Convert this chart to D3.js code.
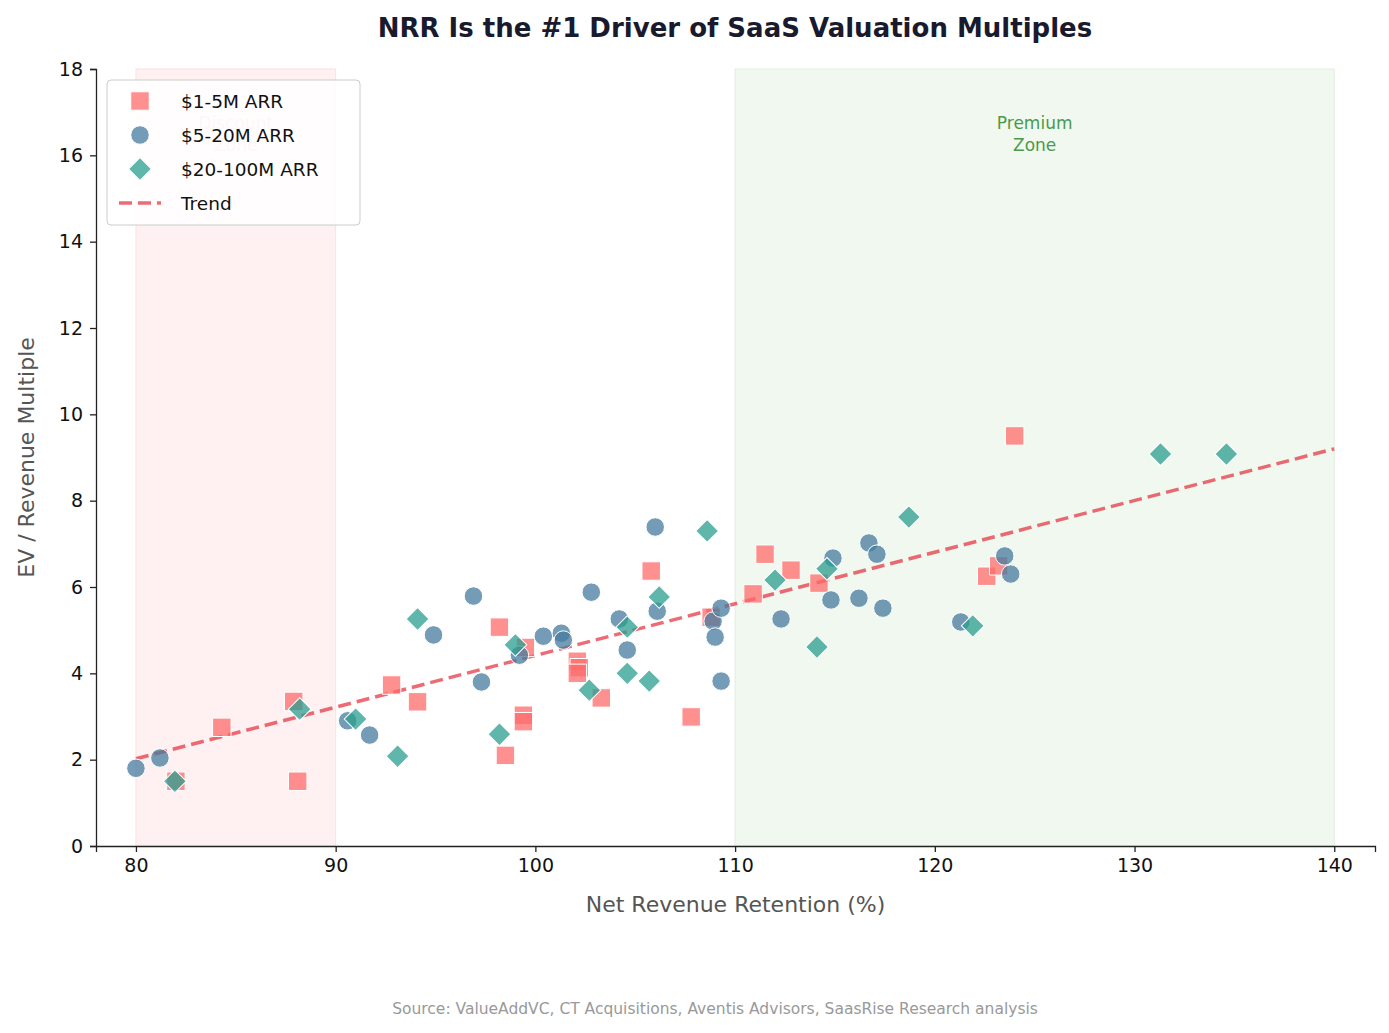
<!DOCTYPE html>
<html>
<head>
<meta charset="utf-8">
<script src="https://cdn.jsdelivr.net/npm/d3@7"></script>
<style>
  body { margin: 0; background: #fff; font-family: "DejaVu Sans", sans-serif; }
</style>
</head>
<body>
<svg id="chart"></svg>
<script>
// $1-5M ARR
const smallNrr = [82.0, 84.3, 87.9, 88.1, 92.8, 94.1, 98.2, 98.5, 99.5, 99.4, 99.4, 102.1, 102.2, 102.1, 103.3, 105.8, 107.8, 108.8, 111.5, 112.8, 110.9, 114.2, 122.6, 123.2, 124.0];
const smallMult = [1.5, 2.75, 3.35, 1.5, 3.73, 3.34, 5.07, 2.1, 4.6, 3.03, 2.88, 4.28, 4.13, 4.0, 3.43, 6.37, 2.99, 5.3, 6.76, 6.39, 5.84, 6.09, 6.25, 6.49, 9.5];
// $5-20M ARR
const midNrr = [80.0, 81.2, 90.6, 91.7, 94.9, 96.9, 97.3, 99.2, 100.4, 101.3, 101.4, 102.8, 104.2, 104.6, 106.0, 106.1, 108.9, 109.0, 109.3, 109.3, 112.3, 114.9, 114.8, 116.2, 116.7, 117.1, 117.4, 121.3, 123.5, 123.8];
const midMult = [1.8, 2.04, 2.9, 2.57, 4.89, 5.79, 3.8, 4.42, 4.86, 4.93, 4.77, 5.88, 5.26, 4.54, 7.39, 5.44, 5.21, 4.84, 5.51, 3.82, 5.26, 6.67, 5.7, 5.74, 7.02, 6.76, 5.51, 5.19, 6.72, 6.3];
// $20-100M ARR
const largeNrr = [81.95, 88.2, 91.0, 93.1, 94.1, 98.2, 99.0, 102.7, 104.6, 104.6, 105.7, 106.2, 108.6, 112.0, 114.6, 114.1, 118.7, 121.9, 131.3, 134.6];
const largeMult = [1.5, 3.17, 2.94, 2.08, 5.26, 2.59, 4.66, 3.61, 5.07, 4.0, 3.82, 5.77, 7.3, 6.16, 6.42, 4.61, 7.62, 5.1, 9.08, 9.08];
const trendX = [80, 140];
const trendY = [2.02, 9.2];
const xTicks = [80, 90, 100, 110, 120, 130, 140];
const yTicks = [0, 2, 4, 6, 8, 10, 12, 14, 16, 18];

const width = 1389, height = 1033;
const mLeft = 96, mRight = 1375, mTop = 69, mBottom = 846;

const svg = d3.select("#chart").attr("width", width).attr("height", height);

const x = d3.scaleLinear().domain([78, 142.04]).range([mLeft, mRight]);
const y = d3.scaleLinear().domain([0, 18]).range([mBottom, mTop]);

/* zones */
svg.append("rect").attr("x", x(80)).attr("y", y(18)).attr("width", x(90) - x(80)).attr("height", y(0) - y(18))
  .attr("fill", "#fff1f1").attr("stroke", "#fbe0e2").attr("stroke-width", 1);
svg.append("rect").attr("x", x(110)).attr("y", y(18)).attr("width", x(140) - x(110)).attr("height", y(0) - y(18))
  .attr("fill", "#f1f8f0").attr("stroke", "#e0efdf").attr("stroke-width", 1);

const zoneLabel = (cx, lines, color) => {
  const t = svg.append("text").attr("x", x(cx)).attr("y", y(16.6)).attr("text-anchor", "middle")
    .attr("font-size", 17).attr("fill", color);
  lines.forEach((l, i) => t.append("tspan").attr("x", x(cx)).attr("dy", i ? 22 : 0).text(l));
};
zoneLabel(85, ["Discount", "Zone"], "#f6c2c4");
zoneLabel(125, ["Premium", "Zone"], "#4a9a4a");

/* axes */
const xAxis = svg.append("g").attr("transform", `translate(0,${mBottom})`)
  .call(d3.axisBottom(x).tickValues(xTicks).tickSize(6).tickPadding(7));
const yAxis = svg.append("g").attr("transform", `translate(${mLeft},0)`)
  .call(d3.axisLeft(y).tickValues(yTicks).tickSize(6).tickPadding(7));
[xAxis, yAxis].forEach(g => {
  g.selectAll("text").attr("font-size", 19).attr("fill", "#111").attr("font-family", "DejaVu Sans");
  g.selectAll("path, line").attr("stroke", "#222").attr("stroke-width", 1.3);
});

/* trend */
svg.append("line").attr("x1", x(trendX[0])).attr("y1", y(trendY[0])).attr("x2", x(trendX[1])).attr("y2", y(trendY[1]))
  .attr("stroke", "#e63946").attr("stroke-opacity", 0.75).attr("stroke-width", 3.5).attr("stroke-dasharray", "13,6");

/* points */
const toPts = (xs, ys) => xs.map((v, i) => ({ nrr: v, mult: ys[i] }));
const sq = d3.symbol().type(d3.symbolSquare).size(340);
const ci = d3.symbol().type(d3.symbolCircle).size(270);
const di = d3.symbol().type(d3.symbolSquare).size(260); // rotated 45deg -> diamond

const drawSeries = (pts, sym, color, rot) => {
  svg.append("g").selectAll("path").data(pts).enter().append("path")
    .attr("d", sym)
    .attr("transform", d => `translate(${x(d.nrr)},${y(d.mult)}) rotate(${rot})`)
    .attr("fill", color).attr("fill-opacity", 0.75)
    .attr("stroke", "#fff").attr("stroke-width", 1);
};
drawSeries(toPts(smallNrr, smallMult), sq, "#ff6b6b", 0);
drawSeries(toPts(midNrr, midMult), ci, "#457b9d", 0);
drawSeries(toPts(largeNrr, largeMult), di, "#2a9d8f", 45);

/* legend */
const lg = svg.append("g").attr("transform", "translate(107,80)");
lg.append("rect").attr("width", 253).attr("height", 145).attr("rx", 4).attr("fill", "#fff").attr("fill-opacity", 0.85)
  .attr("stroke", "#ccc");
const items = [
  { label: "$1-5M ARR", sym: sq, color: "#ff6b6b", rot: 0 },
  { label: "$5-20M ARR", sym: ci, color: "#457b9d", rot: 0 },
  { label: "$20-100M ARR", sym: di, color: "#2a9d8f", rot: 45 },
  { label: "Trend", line: true }
];
items.forEach((it, i) => {
  const cy = 21 + i * 34;
  if (it.line) {
    lg.append("line").attr("x1", 12).attr("x2", 54).attr("y1", cy).attr("y2", cy)
      .attr("stroke", "#e63946").attr("stroke-opacity", 0.75).attr("stroke-width", 3.5).attr("stroke-dasharray", "13,6");
  } else {
    lg.append("path").attr("d", it.sym).attr("transform", `translate(33,${cy}) rotate(${it.rot})`)
      .attr("fill", it.color).attr("fill-opacity", 0.75).attr("stroke", "#fff");
  }
  lg.append("text").attr("x", 74).attr("y", cy + 7).attr("font-size", 18.5).attr("fill", "#111").text(it.label);
});

/* titles */
svg.append("text").attr("x", 735).attr("y", 37).attr("text-anchor", "middle").attr("font-size", 26)
  .attr("font-weight", "bold").attr("fill", "#1a1a2e").text("NRR Is the #1 Driver of SaaS Valuation Multiples");
svg.append("text").attr("x", (mLeft + mRight) / 2).attr("y", 912).attr("text-anchor", "middle").attr("font-size", 22)
  .attr("fill", "#555").text("Net Revenue Retention (%)");
svg.append("text").attr("transform", `translate(34,${(mTop + mBottom) / 2}) rotate(-90)`).attr("text-anchor", "middle")
  .attr("font-size", 22).attr("fill", "#555").text("EV / Revenue Multiple");
svg.append("text").attr("x", 715).attr("y", 1014).attr("text-anchor", "middle").attr("font-size", 15.5)
  .attr("fill", "#999").text("Source: ValueAddVC, CT Acquisitions, Aventis Advisors, SaasRise Research analysis");
</script>
</body>
</html>
